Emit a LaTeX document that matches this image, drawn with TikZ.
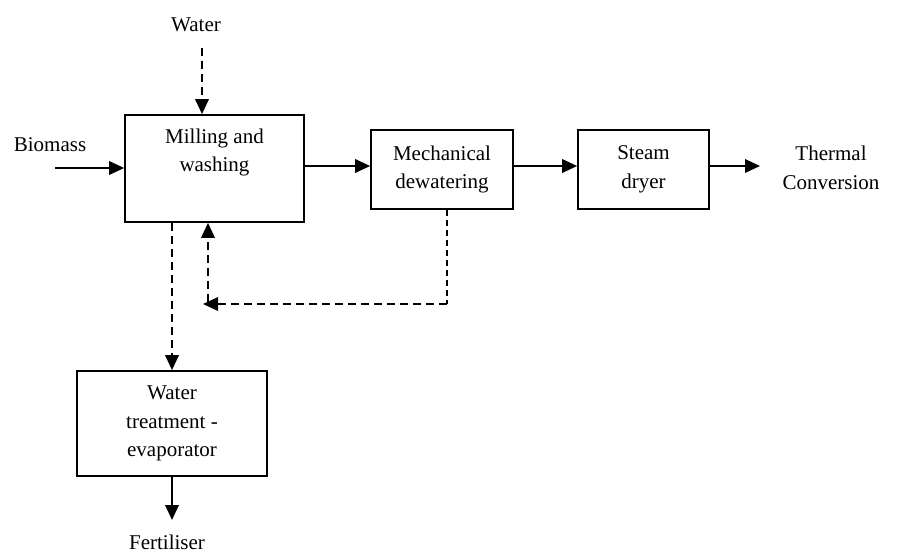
\documentclass[tikz,border=0pt]{standalone}
\usepackage{fontspec}
\setmainfont{Liberation Serif}
\usetikzlibrary{arrows.meta}
\begin{document}
\begin{tikzpicture}[x=1pt,y=-1pt,
  every node/.style={font=\fontsize{21}{28.5}\selectfont, align=center, inner sep=0pt},
  procbox/.style={draw, line width=1.7pt},
  arr/.style={line width=1.9pt, -{Triangle[length=15pt,width=13.5pt]}},
  darr/.style={line width=1.9pt, dash pattern=on 8pt off 5pt, -{Triangle[length=15pt,width=13.5pt]}},
  thindline/.style={line width=1.2pt, dash pattern=on 6pt off 4pt}]
\useasboundingbox (0,0) rectangle (920,554);
\node[procbox, minimum width=179pt, minimum height=107pt] (mill) at (214.5,168.5) {Milling and\\washing\\\strut};
\node[procbox, minimum width=142pt, minimum height=79pt] (mech) at (442,169.5) {Mechanical\\dewatering};
\node[procbox, minimum width=131pt, minimum height=79pt] (steam) at (643.5,169.5) {Steam\\dryer};
\node[procbox, minimum width=190pt, minimum height=105pt] (wt) at (172,423.5) {Water\\treatment -\\evaporator};
\node (bio) at (50,145) {Biomass};
\node (water) at (196,25) {Water};
\node (therm) at (831,168) {Thermal\\Conversion};
\node (fert) at (167,542) {Fertiliser};
\coordinate (bioend) at (55,168);
\coordinate (wtop) at (202,48);
\coordinate (thend) at (760,166);
\coordinate (corner) at (447,304);
\coordinate (recend) at (203,304);
\coordinate (upstart) at (208,302);
\coordinate (fertend) at (172,520);
\draw[arr] (bioend) -- (bioend -| mill.west);
\draw[darr] (wtop) -- (wtop |- mill.north);
\draw[arr] (mill.east |- 0,166) -- (mech.west |- 0,166);
\draw[arr] (mech.east |- 0,166) -- (steam.west |- 0,166);
\draw[arr] (steam.east |- thend) -- (thend);
\draw[thindline] (corner |- mech.south) -- (corner);
\draw[darr] (corner) -- (recend);
\draw[darr] (upstart) -- (upstart |- mill.south);
\draw[darr] (mill.south -| wt.north) -- (wt.north);
\draw[arr] (wt.south) -- (fertend);
\end{tikzpicture}
\end{document}
